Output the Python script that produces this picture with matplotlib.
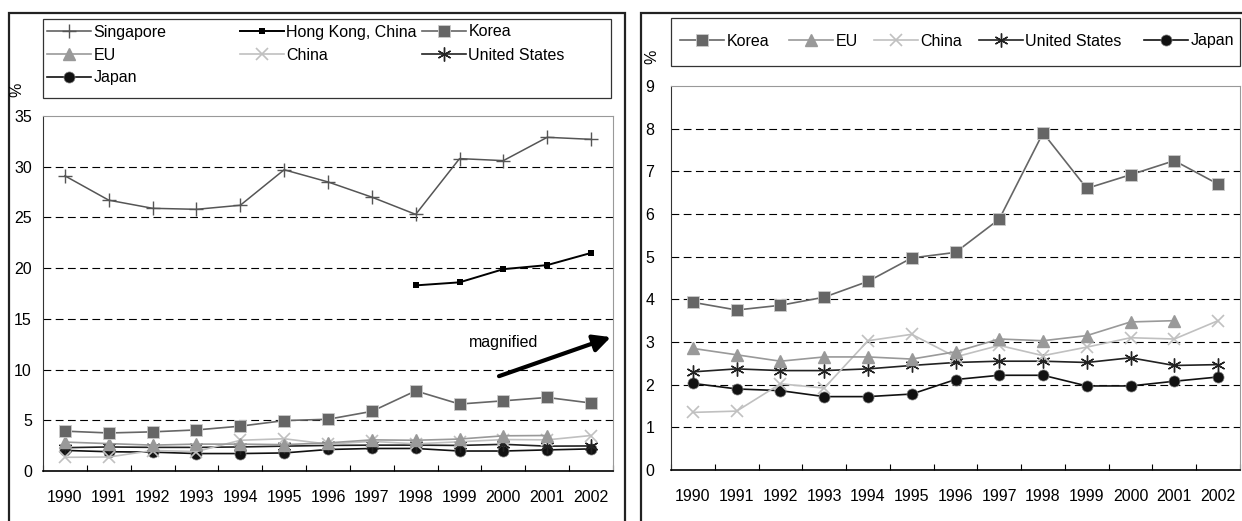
import numpy as np
import matplotlib
matplotlib.use("Agg")
import matplotlib.pyplot as plt
from matplotlib.patches import Rectangle

plt.rcParams['font.family'] = ['Liberation Sans', 'DejaVu Sans']
FS = 11.5
plt.rcParams['font.size'] = FS

years = ["1990", "1991", "1992", "1993", "1994", "1995", "1996",
         "1997", "1998", "1999", "2000", "2001", "2002"]
nan = np.nan
singapore = [29.1, 26.7, 25.9, 25.8, 26.2, 29.7, 28.5, 27.0, 25.3, 30.8, 30.6, 32.9, 32.7]
hongkong = [nan, nan, nan, nan, nan, nan, nan, nan, 18.3, 18.6, 19.9, 20.3, 21.5]
korea = [3.93, 3.75, 3.86, 4.05, 4.42, 4.97, 5.10, 5.88, 7.90, 6.60, 6.92, 7.25, 6.70]
eu = [2.85, 2.70, 2.55, 2.65, 2.65, 2.60, 2.77, 3.07, 3.03, 3.15, 3.47, 3.50, nan]
china = [1.35, 1.38, 2.02, 1.92, 3.03, 3.18, 2.65, 2.92, 2.68, 2.88, 3.10, 3.07, 3.50]
usa = [2.30, 2.37, 2.33, 2.33, 2.37, 2.45, 2.52, 2.55, 2.55, 2.52, 2.63, 2.45, 2.47]
japan = [2.03, 1.90, 1.86, 1.72, 1.72, 1.78, 2.12, 2.22, 2.22, 1.97, 1.97, 2.08, 2.18]

x = np.arange(len(years))

styles = {
    "Singapore": dict(color="#555555", marker="+", ms=10, mew=1.0, lw=1.1),
    "Hong Kong, China": dict(color="#000000", marker="s", ms=4.5, mew=0, lw=1.4),
    "Korea": dict(color="#666666", marker="s", ms=8, mec="#cccccc", mew=0.6, lw=1.2),
    "EU": dict(color="#999999", marker="^", ms=8, mec="#999999", lw=1.2),
    "China": dict(color="#c0c0c0", marker="x", ms=9, mew=1.2, lw=1.2),
    "United States": dict(color="#222222", marker=(6, 2, 0), ms=10, mew=1.0, lw=1.2),
    "Japan": dict(color="#111111", marker="o", ms=8, mec="#888888", mew=0.5, lw=1.2),
}
series = {
    "Singapore": singapore, "Hong Kong, China": hongkong, "Korea": korea,
    "EU": eu, "China": china, "United States": usa, "Japan": japan,
}

W, H = 1242, 521
fig = plt.figure(figsize=(W / 100, H / 100), dpi=100)


def box(x0, y0, x1, y1):
    return [x0 / W, 1 - y1 / H, (x1 - x0) / W, (y1 - y0) / H]


def fpt(px, py):
    return (px / W, 1 - py / H)


# outer panel borders
for (x0, x1) in [(9, 625), (641, 1260)]:
    fig.patches.append(Rectangle((x0 / W, -0.1), (x1 - x0) / W, 1.1 - 13 / H,
                                 transform=fig.transFigure, fill=False,
                                 ec="#222222", lw=1.6))


def frame(x0, y0, x1, y1):
    fig.patches.append(Rectangle((x0 / W, 1 - y1 / H), (x1 - x0) / W, (y1 - y0) / H,
                                 transform=fig.transFigure, fill=False,
                                 ec="#333333", lw=0.9))


def entry(handle, label, px, py):
    lg = fig.legend([handle], [label], loc="center left", bbox_to_anchor=fpt(px, py),
                    frameon=False, borderpad=0, borderaxespad=0,
                    handlelength=2.75, handletextpad=0.15, fontsize=FS)
    return lg


def style_axes(ax, ymax, step, ypad):
    ax.set_xlim(-0.5, len(years) - 0.5)
    ax.set_ylim(0, ymax)
    ax.set_yticks(np.arange(0, ymax + 0.01, step))
    ax.set_xticks(x)
    ax.set_xticklabels(years)
    ax.set_xticks(np.arange(-0.5, len(years), 1), minor=True)
    ax.tick_params(axis="x", which="major", length=0, pad=14)
    ax.tick_params(axis="x", which="minor", length=4, direction="in", width=0.8)
    ax.tick_params(axis="y", length=0, pad=ypad)
    for t in np.arange(step, ymax, step):
        ax.axhline(t, color="#000000", lw=0.8, ls=(0, (7, 4)), zorder=0)
    for s in ["top", "right"]:
        ax.spines[s].set_color("#999999")
        ax.spines[s].set_linewidth(0.8)
    ax.spines["left"].set_color("#333333")
    ax.spines["left"].set_linewidth(0.8)
    ax.spines["bottom"].set_color("#000000")
    ax.spines["bottom"].set_linewidth(1.2)


# ---- left panel
ax1 = fig.add_axes(box(43, 116, 613, 471))
style_axes(ax1, 35, 5, 8)
handles = {}
for name in ["Japan", "United States", "China", "EU", "Korea", "Hong Kong, China", "Singapore"]:
    h, = ax1.plot(x, series[name], label=name, **styles[name])
    handles[name] = h

frame(43, 19, 611, 98)
left_layout = [("Singapore", 47, 32), ("Hong Kong, China", 240, 32), ("Korea", 422, 32),
               ("EU", 47, 55), ("China", 240, 55), ("United States", 422, 55),
               ("Japan", 47, 78)]
for name, px, py in left_layout:
    entry(handles[name], name, px, py)
fig.text(17 / W, 1 - 90 / H, "%", rotation=90, ha="center", va="center", fontsize=FS)

ax1.text(10.0, 12.7, "magnified", ha="center", va="center", fontsize=FS)
ax1.annotate("", xy=(12.45, 13.2), xytext=(9.9, 9.35),
             arrowprops=dict(arrowstyle="-|>,head_length=0.9,head_width=0.45",
                             color="black", lw=3, shrinkA=0, shrinkB=0))

# ---- right panel
ax2 = fig.add_axes(box(671, 86, 1240, 470))
style_axes(ax2, 9, 1, 12)
handles2 = {}
for name in ["Japan", "United States", "China", "EU", "Korea"]:
    h, = ax2.plot(x, series[name], label=name, **styles[name])
    handles2[name] = h

frame(671, 18, 1240, 66)
right_layout = [("Korea", 680), ("EU", 789), ("China", 874), ("United States", 979), ("Japan", 1144)]
for name, px in right_layout:
    entry(handles2[name], name, px, 41)
fig.text(652 / W, 1 - 57 / H, "%", rotation=90, ha="center", va="center", fontsize=FS)

fig.savefig("out.png", dpi=100)
